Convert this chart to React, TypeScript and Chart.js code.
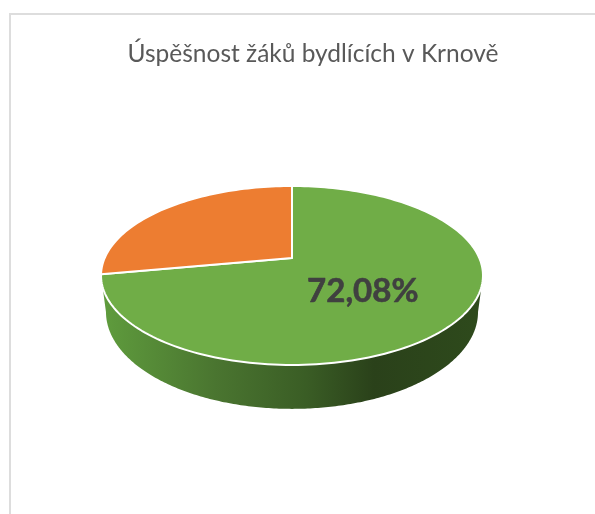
import React, { useEffect, useRef } from "react";
import { Chart, registerables } from "chart.js";

Chart.register(...registerables);

const titleText = "Úspěšnost žáků bydlících v Krnově";
const categories = ["Ano", "Ne"];
const shares = [72.08, 27.92];
const sliceColors = ["#70AD47", "#ED7D31"];
const labelledIndex = 0;

// Perspective projection of the unit pie disc onto the page
const APEX_X = 292;
const APEX_Y = 258;
const RX = 187.3;
const RY = 86.08;
const TILT = 0.1955;
const BOTTOM_DY = 35;
const BOTTOM_SX = 0.974;
const BOTTOM_SY = 1.083;

function project(angle: number, rho = 1, sx = 1, sy = 1, dy = 0) {
  // angle: chart.js radians, -PI/2 is 12 o'clock
  const u = Math.cos(angle) * rho;
  const v = -Math.sin(angle) * rho;
  const w = 1 + TILT * v;
  return {
    x: APEX_X + (RX * sx * u) / w,
    y: APEX_Y + dy - (RY * sy * v) / w,
  };
}

const pie3d = {
  id: "pie3d",
  beforeDatasetsDraw(chart: any) {
    const ctx: CanvasRenderingContext2D = chart.ctx;
    const arcs = chart.getDatasetMeta(0).data as any[];
    const N = 240;

    // side wall: hull of the front part of the top rim and of the bottom rim
    const grad = ctx.createLinearGradient(102, 0, 480, 0);
    grad.addColorStop(0, "#5F9C3D");
    grad.addColorStop(0.3, "#4A7530");
    grad.addColorStop(0.54, "#3A5D25");
    grad.addColorStop(0.72, "#2A411A");
    grad.addColorStop(1, "#2E4A1C");
    ctx.save();
    ctx.fillStyle = grad;
    ctx.beginPath();
    // the widest points of a rim lie slightly in front of the disc's diameter
    const inset = Math.asin(TILT);
    const tr = project(inset);
    const tl = project(Math.PI - inset);
    ctx.moveTo(tr.x, tr.y);
    for (let i = 0; i <= N; i++) {
      const a = inset + ((Math.PI - 2 * inset) * i) / N;
      const p = project(a, 1, BOTTOM_SX, BOTTOM_SY, BOTTOM_DY);
      ctx.lineTo(p.x, p.y);
    }
    ctx.lineTo(tl.x, tl.y);
    ctx.closePath();
    ctx.fill();

    // top face, one wedge for each arc computed by the pie controller
    arcs.forEach((arc) => {
      const { startAngle, endAngle } = arc;
      ctx.beginPath();
      const apex = project(0, 0);
      ctx.moveTo(apex.x, apex.y);
      const steps = Math.max(8, Math.ceil(((endAngle - startAngle) / (Math.PI * 2)) * N));
      for (let i = 0; i <= steps; i++) {
        const p = project(startAngle + ((endAngle - startAngle) * i) / steps);
        ctx.lineTo(p.x, p.y);
      }
      ctx.closePath();
      ctx.fillStyle = arc.options.backgroundColor;
      ctx.fill();
      ctx.lineWidth = arc.options.borderWidth;
      ctx.strokeStyle = arc.options.borderColor;
      ctx.lineJoin = "round";
      ctx.stroke();
    });

    // value label
    const a = arcs[labelledIndex];
    const mid = (a.startAngle + a.endAngle) / 2;
    const lp = project(mid, 0.463);
    const value = chart.data.datasets[0].data[labelledIndex] as number;
    const text = value.toFixed(2).replace(".", ",") + "%";
    ctx.fillStyle = "#404040";
    ctx.strokeStyle = "#404040";
    ctx.lineWidth = 0.6;
    ctx.font = "bold 33px Lato, sans-serif";
    ctx.textAlign = "center";
    ctx.textBaseline = "middle";
    ctx.fillText(text, lp.x, lp.y + 6);
    ctx.strokeText(text, lp.x, lp.y + 6);
    ctx.restore();
    return false;
  },
};

export default function App() {
  const ref = useRef<HTMLCanvasElement>(null);
  useEffect(() => {
    const chart = new Chart(ref.current!, {
      type: "pie",
      data: {
        labels: categories,
        datasets: [
          {
            data: shares,
            backgroundColor: sliceColors,
            borderColor: "#FFFFFF",
            borderWidth: 2,
          },
        ],
      },
      options: {
        responsive: false,
        animation: false,
        plugins: {
          legend: { display: false },
          tooltip: { enabled: false },
          title: {
            display: true,
            text: titleText,
            color: "#595959",
            font: { family: "Lato, sans-serif", size: 24.5, weight: "normal" },
            padding: { top: 39, bottom: 10 },
          },
        },
      },
      plugins: [pie3d],
    } as any);
    return () => chart.destroy();
  }, []);
  return (
    <div style={{ position: "fixed", left: 0, top: 0, width: 595, height: 514, overflow: "hidden", background: "#fff" }}>
      <div
        style={{
          position: "absolute",
          left: 9,
          top: 13,
          width: 800,
          height: 800,
          border: "2px solid #DDDDDD",
        }}
      />
      <canvas ref={ref} width={626} height={514} style={{ position: "absolute", left: 0, top: 0 }} />
    </div>
  );
}
